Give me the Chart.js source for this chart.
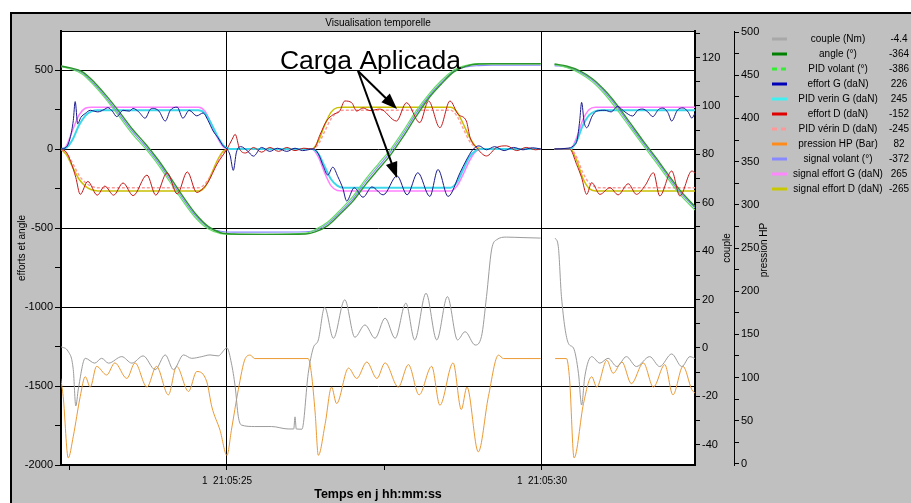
<!DOCTYPE html>
<html>
<head>
<meta charset="utf-8">
<script src="https://cdn.jsdelivr.net/npm/chart.js@4.4.0/dist/chart.umd.min.js"></script>
<style>
  html, body { margin: 0; padding: 0; background: #fff; overflow: hidden; }
  canvas { display: block; }
</style>
</head>
<body>
<canvas id="c" width="911" height="503"></canvas>
<script>
// ---- time bases, in seconds after 21:05:00 (day 1) ----
const tVolant = [22.36, 22.5, 22.7, 22.9, 23.1, 23.3, 23.5, 23.7, 23.9, 24.1,
  24.3, 24.5, 24.7, 24.9, 25.1, 25.6, 26.25, 26.4, 26.6, 26.8,
  27.0, 27.2, 27.4, 27.6, 27.8, 28.0, 28.2, 28.4, 28.6, 28.8,
  29.0, 29.2, 29.6, 29.98, 30.1, 30.2, 30.4, 30.6, 30.8, 31.0,
  31.2, 31.4, 31.6, 31.8, 32.0, 32.2, 32.43];

const tRamp = [22.36, 22.45, 22.55, 22.65, 22.75, 22.85, 22.95, 24.55, 24.65, 24.75,
  24.85, 24.95, 25.05, 26.35, 26.45, 26.55, 26.65, 26.75, 26.85, 26.95,
  28.55, 28.65, 28.75, 28.85, 28.95, 29.05, 29.98, 30.1, 30.2, 30.45,
  30.55, 30.65, 30.75, 30.85, 30.95, 32.43];

const tEffortG = [22.36, 22.45, 22.51, 22.56, 22.59, 22.63, 22.68, 22.75, 22.83, 22.95,
  23.05, 23.11, 23.18, 23.25, 23.35, 23.45, 23.51, 23.6, 23.7, 23.78,
  23.83, 23.92, 24.02, 24.1, 24.21, 24.3, 24.4, 24.52, 24.62, 24.7,
  24.78, 24.86, 24.94, 25.0, 25.05, 25.1, 25.15, 25.22, 25.32, 25.42,
  25.55, 25.68, 25.8, 25.95, 26.08, 26.2, 26.37, 26.45, 26.53, 26.6,
  26.68, 26.76, 26.84, 26.9, 27.02, 27.16, 27.3, 27.48, 27.7, 27.86,
  28.03, 28.22, 28.35, 28.51, 28.7, 28.8, 28.9, 29.0, 29.12, 29.25,
  29.4, 29.55, 29.7, 29.85, 29.98, 30.1, 30.2, 30.4, 30.5, 30.56,
  30.6, 30.63, 30.67, 30.71, 30.8, 30.87, 31.0, 31.1, 31.2, 31.3,
  31.44, 31.52, 31.6, 31.68, 31.76, 31.85, 31.92, 32.0, 32.06, 32.15,
  32.24, 32.32, 32.38, 32.43];

const tEffortD = [22.36, 22.45, 22.52, 22.6, 22.67, 22.79, 22.94, 23.06, 23.2, 23.35,
  23.51, 23.73, 23.87, 24.05, 24.21, 24.37, 24.52, 24.62, 24.7, 24.84,
  25.0, 25.08, 25.13, 25.2, 25.3, 25.42, 25.55, 25.68, 25.82, 25.95,
  26.08, 26.22, 26.37, 26.48, 26.58, 26.69, 26.79, 26.87, 26.98, 27.06,
  27.16, 27.27, 27.43, 27.69, 27.85, 28.06, 28.2, 28.38, 28.54, 28.67,
  28.8, 28.86, 28.96, 29.12, 29.28, 29.44, 29.6, 29.75, 29.9, 29.98,
  30.1, 30.2, 30.44, 30.55, 30.63, 30.71, 30.79, 30.92, 31.08, 31.21,
  31.37, 31.5, 31.64, 31.77, 31.87, 32.06, 32.19, 32.38, 32.43];

const tCouple = [22.36, 22.48, 22.56, 22.6, 22.64, 22.75, 22.9, 23.01, 23.12, 23.33,
  23.49, 23.67, 23.86, 24.02, 24.15, 24.31, 24.44, 24.6, 24.73, 24.86,
  25.0, 25.07, 25.13, 25.18, 25.23, 25.44, 25.71, 25.97, 26.06, 26.08,
  26.1, 26.19, 26.29, 26.37, 26.45, 26.55, 26.69, 26.87, 27.03, 27.19,
  27.35, 27.51, 27.67, 27.84, 27.98, 28.16, 28.33, 28.5, 28.66, 28.78,
  28.94, 29.04, 29.12, 29.2, 29.28, 29.44, 29.7, 29.98, 30.1, 30.21,
  30.26, 30.31, 30.42, 30.5, 30.58, 30.63, 30.68, 30.79, 30.92, 31.05,
  31.19, 31.34, 31.5, 31.71, 31.87, 32.06, 32.22, 32.35, 32.43];

const tPression = [22.36, 22.4, 22.48, 22.56, 22.67, 22.75, 22.83, 22.93, 23.09, 23.22,
  23.41, 23.54, 23.73, 23.88, 24.07, 24.2, 24.39, 24.52, 24.68, 24.76,
  24.89, 25.0, 25.07, 25.18, 25.29, 25.37, 25.44, 26.29, 26.34, 26.4,
  26.45, 26.56, 26.66, 26.74, 26.93, 27.06, 27.22, 27.38, 27.51, 27.72,
  27.88, 28.05, 28.25, 28.38, 28.59, 28.72, 28.81, 28.99, 29.15, 29.31,
  29.39, 29.98, 30.1, 30.21, 30.39, 30.44, 30.51, 30.66, 30.79, 30.87,
  31.03, 31.13, 31.27, 31.42, 31.61, 31.77, 31.95, 32.08, 32.24, 32.38,
  32.43];

// ---- recorded values (null = acquisition gap) ----
const angle = [526, 515, 490, 420, 330, 230, 125, 35, -65, -180,
  -300, -410, -490, -530, -538, -540, -538, -525, -485, -410,
  -330, -225, -130, -35, 80, 205, 320, 410, 488, 525,
  538, 540, 540, 540, null, 538, 524, 495, 445, 370,
  275, 165, 55, -50, -160, -265, -364];

const pidVolant = [522, 508, 475, 398, 305, 200, 95, 5, -95, -212,
  -330, -435, -505, -535, -540, -540, -532, -510, -462, -385,
  -300, -192, -95, 0, 115, 240, 345, 432, 500, 530,
  540, 540, 540, 540, null, 535, 515, 480, 425, 345,
  245, 135, 28, -78, -188, -292, -386];

const signalVolant = [524, 511, 482, 408, 316, 214, 110, 20, -80, -196,
  -315, -422, -496, -520, -526, -526, -524, -516, -472, -398,
  -315, -207, -112, -16, 98, 224, 332, 420, 492, 520,
  528, 530, 530, 530, null, 528, 518, 488, 436, 358,
  262, 150, 42, -62, -173, -278, -372];

const pidVerinG = [0, 8, 60, 150, 210, 238, 245, 245, 225, 160,
  80, 20, 0, 0, -30, -110, -190, -232, -245, -245,
  -245, -210, -130, -50, -10, 0, 0, null, 0, 0,
  50, 150, 215, 240, 245, 245];

const signalEffortG = [0, 20, 120, 215, 258, 265, 265, 265, 240, 160,
  70, 10, 0, 0, -50, -150, -232, -262, -265, -265,
  -265, -235, -160, -75, -15, 0, 0, null, 0, 0,
  70, 185, 250, 265, 265, 265];

const pidVerinD = [0, -25, -90, -165, -212, -236, -245, -245, -222, -160,
  -80, -20, 0, 0, 30, 110, 190, 232, 245, 245,
  245, 210, 130, 50, 10, 0, 0, null, 0, 0,
  -50, -150, -215, -240, -245, -245];

const signalEffortD = [0, -35, -115, -190, -235, -258, -265, -265, -240, -160,
  -70, -10, 0, 0, 50, 150, 232, 262, 265, 265,
  265, 235, 160, 75, 15, 0, 0, null, 0, 0,
  -70, -185, -250, -265, -265, -265];

const effortG = [0, 12, 70, 180, 300, 160, 200, 225, 245, 235,
  250, 262, 240, 205, 245, 240, 257, 235, 195, 250,
  257, 240, 177, 245, 265, 195, 245, 210, 228, 180,
  114, 70, 19, 0, -40, -135, -20, 15, -10, -45,
  10, -15, 5, -15, 5, -10, 0, -30, -110, -165,
  -115, -175, -250, -329, -245, -305, -240, -290, -170, -290,
  -150, -300, -130, -300, -150, -70, -5, 20, -5, 15,
  -10, 10, -5, 8, 0, null, 0, 5, 20, 60,
  180, 295, 170, 135, 210, 240, 245, 235, 270, 240,
  209, 245, 253, 235, 205, 250, 259, 230, 177, 245,
  260, 235, 196, 226];

const effortD = [0, -20, -80, -180, -287, -205, -292, -235, -292, -215,
  -295, -165, -292, -150, -285, -145, -275, -250, -210, -97,
  0, 60, 93, 0, -25, 10, -20, 10, -15, 10,
  -10, 5, 0, 93, 177, 219, 240, 304, 293, 240,
  260, 243, 253, 177, 293, 167, 304, 135, 304, 219,
  177, 72, 10, -44, 10, 20, -10, 10, -5, 0,
  null, 0, 0, -97, -181, -287, -213, -287, -245, -290,
  -220, -287, -230, -150, -297, -139, -297, -139, -152];

const couple = [0.5, -1.5, -9, -24, -17, -4.3, -6.3, -4.3, -6.3, -3.6,
  -6.3, -3.3, -9, -2.9, -9, -2.9, -4.3, -3.6, -2.9, -3.3,
  0, -6.3, -16, -28.4, -31.9, -32.5, -32.5, -33.5, -33.5, -28.5,
  -33.5, -33.6, -10.5, 0, 3.3, 16.8, 4.0, 19.9, 4.4, 9.5,
  4.0, 12.3, 4.0, 18.5, 3.3, 22.6, 3.3, 21.2, 3.3, 6.7,
  1.2, 4.7, 21.2, 40.5, 44.7, 45.8, 45.6, 45.4, null, 45.4,
  41.9, 21.2, 1.9, 0, -10.5, -23.6, -11.9, -3.6, -6.3, -4.3,
  -7.7, -3.6, -7.7, -3.6, -7.7, -2.5, -7.7, -3.6, -4.4];

const pression = [99, 78, 7, 32, 78, 101, 89, 113, 103, 117,
  99, 117, 89, 113, 80, 113, 84, 107, 95, 66,
  39, 10, 39, 86, 122, 126, 122, 122, 105, 59,
  10, 47, 89, 70, 111, 99, 118, 99, 117, 89,
  115, 80, 113, 68, 117, 63, 89, 14, 78, 126,
  122, 122, null, 122, 122, 97, 7, 70, 101, 89,
  120, 105, 118, 93, 117, 89, 115, 80, 113, 86,
  82];

// ---- names and tick labels ----
const seriesNames = ['couple (Nm)', 'angle (°)', 'PID volant (°)', 'effort G (daN)',
  'PID verin G (daN)', 'effort D (daN)', 'PID vérin D (daN)', 'pression HP (Bar)',
  'signal volant (°)', 'signal effort G (daN)', 'signal effort D (daN)'];

const timeTicks = [22.5, 25, 27.5, 30];
const timeTickLabels = ['', '1  21:05:25', '', '1  21:05:30'];
const timeGridAt = [25, 30];
const leftTicks = [-2000, -1500, -1000, -500, 0, 500];
const coupleTicks = [-40, -20, 0, 20, 40, 60, 80, 100, 120];
const pressionTicks = [0, 50, 100, 150, 200, 250, 300, 350, 400, 450, 500];

const noteText = 'Carga Aplicada';
const noteAt = [25.84, 506];
const noteFrom = [27.08, 494];
const noteTips = [[27.70, 253], [27.70, -184]];

// ---- styling ----
const FONT = '"Liberation Sans", Arial, sans-serif';
const series = [
  { t: tCouple,   v: couple,        axis: 'yCouple',   color: '#9c9c9c', key: '#a8a8a8', w: 1,   order: 9 },
  { t: tVolant,   v: angle,         axis: 'y',         color: '#2a962a', key: '#008000', w: 1.4, order: 2 },
  { t: tVolant,   v: pidVolant,     axis: 'y',         color: '#66dd66', key: '#33ee33', w: 1.2, order: 3, keyDash: true },
  { t: tEffortG,  v: effortG,       axis: 'y',         color: '#1a1a8e', key: '#0000b8', w: 1,   order: 0 },
  { t: tRamp,     v: pidVerinG,     axis: 'y',         color: '#3cd8ea', key: '#40f0f0', w: 2,   order: 5 },
  { t: tEffortD,  v: effortD,       axis: 'y',         color: '#c41a1a', key: '#e00000', w: 1,   order: 1 },
  { t: tRamp,     v: pidVerinD,     axis: 'y',         color: '#ff9a9a', key: '#ff9999', w: 1.4, order: 6, dash: [3, 2], keyDash: true },
  { t: tPression, v: pression,      axis: 'yPression', color: '#eb9a34', key: '#ff8c1a', w: 1,   order: 10 },
  { t: tVolant,   v: signalVolant,  axis: 'y',         color: '#8888ff', key: '#8888ff', w: 1.1, order: 4 },
  { t: tRamp,     v: signalEffortG, axis: 'y',         color: '#ff80ff', key: '#ff88ff', w: 1.5, order: 7 },
  { t: tRamp,     v: signalEffortD, axis: 'y',         color: '#c8c000', key: '#c8c800', w: 1.5, order: 8 },
];

const datasets = series.map((s, i) => ({
  label: seriesNames[i],
  data: s.t.map((t, k) => ({ x: t, y: s.v[k] })),
  yAxisID: s.axis,
  borderColor: s.color,
  borderWidth: s.w,
  borderDash: s.dash || [],
  pointRadius: 0,
  fill: false,
  cubicInterpolationMode: 'monotone',
  spanGaps: false,
  order: s.order,
}));

const withMinor = (list, step, max) => {
  const out = [];
  list.forEach(v => { out.push(v); if (v + step <= max) out.push(v + step); });
  return out.sort((a, b) => a - b);
};

const transparent = 'rgba(0,0,0,0)';

function arrow(ctx, x0, y0, x1, y1) {
  const a = Math.atan2(y1 - y0, x1 - x0);
  const L = 16, W = 6;
  ctx.beginPath();
  ctx.moveTo(x0, y0);
  ctx.lineTo(x1 - (L - 3) * Math.cos(a), y1 - (L - 3) * Math.sin(a));
  ctx.stroke();
  ctx.beginPath();
  ctx.moveTo(x1, y1);
  ctx.lineTo(x1 - L * Math.cos(a) + W * Math.sin(a), y1 - L * Math.sin(a) - W * Math.cos(a));
  ctx.lineTo(x1 - L * Math.cos(a) - W * Math.sin(a), y1 - L * Math.sin(a) + W * Math.cos(a));
  ctx.closePath();
  ctx.fill();
}

// window panel, plot frame, titles, annotation and side legend
const panelPlugin = {
  id: 'panel',
  beforeDraw(chart) {
    const { ctx, width, height, chartArea: a } = chart;
    ctx.save();
    ctx.fillStyle = '#fff';
    ctx.fillRect(0, 0, width, height);
    ctx.fillStyle = '#c0c0c0';
    ctx.fillRect(10, 12, width - 10, height - 12);
    ctx.fillStyle = '#000';
    ctx.fillRect(10, 12, width - 10, 2);
    ctx.fillRect(10, 12, 2, height - 12);
    ctx.fillStyle = '#fff';
    ctx.fillRect(a.left, a.top, a.right - a.left, a.bottom - a.top);
    ctx.restore();
  },
  afterDatasetsDraw(chart) {
    const { ctx, scales: { x, y } } = chart;
    ctx.save();
    ctx.fillStyle = '#000';
    ctx.strokeStyle = '#000';
    ctx.lineWidth = 2;
    ctx.font = '26.5px ' + FONT;
    ctx.textAlign = 'left';
    ctx.textBaseline = 'alphabetic';
    ctx.fillText(noteText, x.getPixelForValue(noteAt[0]), y.getPixelForValue(noteAt[1]));
    const fx = x.getPixelForValue(noteFrom[0]), fy = y.getPixelForValue(noteFrom[1]);
    noteTips.forEach(p => arrow(ctx, fx, fy, x.getPixelForValue(p[0]), y.getPixelForValue(p[1])));
    ctx.restore();
  },
  afterDraw(chart) {
    const { ctx, chartArea: a } = chart;
    const cx = (a.left + a.right) / 2, cy = (a.top + a.bottom) / 2;
    ctx.save();
    // top edge of the plot frame
    ctx.fillStyle = '#000';
    ctx.fillRect(a.left, a.top, a.right - a.left, 1);

    ctx.textAlign = 'center';
    ctx.textBaseline = 'middle';
    ctx.font = '10px ' + FONT;
    ctx.fillText('Visualisation temporelle', cx, 23);
    ctx.font = 'bold 12.5px ' + FONT;
    ctx.fillText('Temps en j hh:mm:ss', cx, 495);

    ctx.font = '10px ' + FONT;
    const vText = (txt, px, py) => {
      ctx.save();
      ctx.translate(px, py);
      ctx.rotate(-Math.PI / 2);
      ctx.fillText(txt, 0, 0);
      ctx.restore();
    };
    vText('efforts et angle', 22, cy);
    vText('couple', 727, cy);
    vText('pression HP', 764, cy + 2);

    // side legend with the last recorded value of each channel
    series.forEach((s, i) => {
      const ly = 39 + i * 15;
      ctx.strokeStyle = s.key;
      ctx.lineWidth = 3;
      ctx.setLineDash(s.keyDash ? [5, 4] : []);
      ctx.beginPath();
      ctx.moveTo(772, ly);
      ctx.lineTo(787, ly);
      ctx.stroke();
      ctx.setLineDash([]);
      ctx.fillStyle = '#000';
      ctx.font = '10px ' + FONT;
      ctx.textAlign = 'center';
      ctx.fillText(seriesNames[i], 838, ly);
      ctx.fillText(String(s.v[s.v.length - 1]), 899, ly);
    });
    ctx.restore();
  }
};

const tickFont = { family: FONT, size: 11 };

new Chart(document.getElementById('c'), {
  type: 'line',
  data: { datasets },
  plugins: [panelPlugin],
  options: {
    responsive: false,
    animation: false,
    events: [],
    layout: { padding: { top: 31, left: 0, right: 0, bottom: 0 } },
    plugins: { legend: { display: false }, title: { display: false }, tooltip: { enabled: false } },
    scales: {
      x: {
        type: 'linear', position: 'bottom', min: 22.365, max: 32.43,
        afterBuildTicks: s => { s.ticks = timeTicks.map(v => ({ value: v })); },
        afterFit: s => { s.height = 38; },
        ticks: {
          autoSkip: false, maxRotation: 0, padding: 5, color: '#000',
          font: { family: FONT, size: 10 },
          callback: (v, i) => timeTickLabels[i]
        },
        grid: {
          color: c => (c.tick && timeGridAt.includes(c.tick.value)) ? '#000' : transparent,
          tickColor: '#000', tickLength: 5, lineWidth: 1
        },
        border: { color: '#000', width: 2 }
      },
      y: {
        position: 'left', min: -2000, max: 747,
        afterBuildTicks: s => { s.ticks = withMinor(leftTicks, 250, 747).map(v => ({ value: v })); },
        afterFit: s => { s.width = 61; },
        ticks: {
          autoSkip: false, padding: 2, color: '#000', font: tickFont,
          callback: v => leftTicks.includes(v) ? String(v) : ''
        },
        grid: {
          color: c => (c.tick && leftTicks.includes(c.tick.value) && c.tick.value > -2000) ? '#000' : transparent,
          tickColor: '#000', tickLength: 6, lineWidth: 1
        },
        border: { color: '#000', width: 2 }
      },
      yCouple: {
        position: 'right', weight: 0, min: -48.4, max: 131,
        afterBuildTicks: s => { s.ticks = withMinor(coupleTicks, 10, 131).map(v => ({ value: v })); },
        afterFit: s => { s.width = 39; },
        ticks: {
          autoSkip: false, padding: 2, color: '#000', font: tickFont,
          callback: v => coupleTicks.includes(v) ? String(v) : ''
        },
        grid: { drawOnChartArea: false, tickColor: '#000', tickLength: 5 },
        border: { color: '#000', width: 2 }
      },
      yPression: {
        position: 'right', weight: 1, min: -1.2, max: 501.2,
        afterBuildTicks: s => { s.ticks = withMinor(pressionTicks, 25, 501).map(v => ({ value: v })); },
        afterFit: s => { s.width = 177; },
        ticks: {
          autoSkip: false, padding: 2, color: '#000', font: tickFont,
          callback: v => pressionTicks.includes(v) ? String(v) : ''
        },
        grid: { drawOnChartArea: false, tickColor: '#000', tickLength: 5 },
        border: { color: '#000', width: 1 }
      }
    }
  }
});
</script>
</body>
</html>
